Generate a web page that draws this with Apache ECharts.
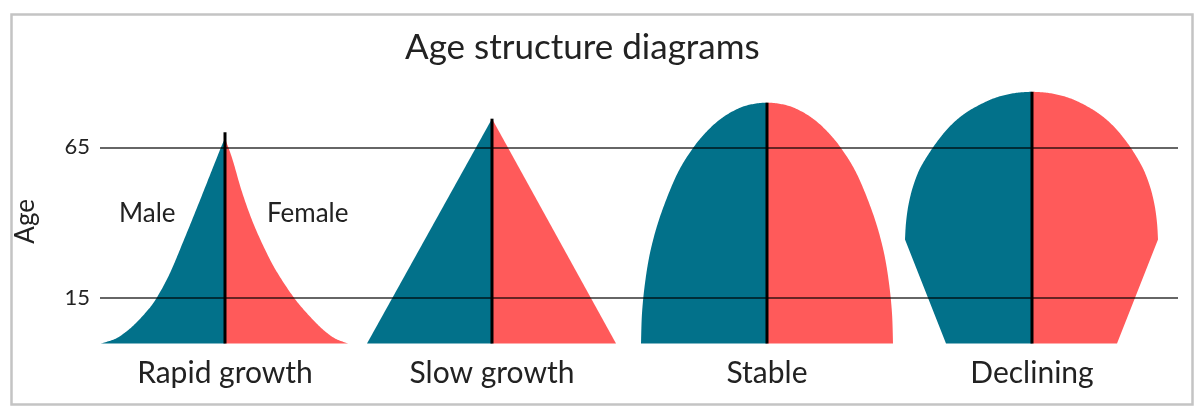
<!DOCTYPE html>
<html>
<head>
<meta charset="utf-8">
<script src="https://cdn.jsdelivr.net/npm/echarts@6/dist/echarts.min.js"></script>
<style>
html,body{margin:0;padding:0;background:#fff;}
#chart{width:1204px;height:414px;}
</style>
</head>
<body>
<div id="chart"></div>
<script>
// ---- data ----
const titleText = 'Age structure diagrams';
const categories = ['Rapid growth', 'Slow growth', 'Stable', 'Declining'];
const ageTicks = [15, 65];
// profiles: [age, half-width (relative population)], from base (age 0) up to the apex
const rapidMale   = [[0,124],[1.5,110],[3.5,100.5],[6,91.5],[10,80],[14.5,69.5],[23,55.5],[34,41.5],[45,28],[56,14.8],[65,4],[68,0]];
const rapidFemale = [[0,123],[1.5,111],[3.5,102],[6,93.5],[10,82],[14.5,70.5],[21,57],[28,44.7],[39,29.3],[50,17.2],[61,7.5],[68,0]];
const slowMale    = [[0,125],[74.5,0]];
const slowFemale  = [[0,124],[74.5,0]];
const stableMale  = [[0,126],[10,125],[20,122],[30,117],[40,109],[50,98],[58,87],[65,73.5],[70,61],[74,48],[77,34],[79,19],[79.8,0]];
const stableFemale= [[0,126],[10,125],[20,122],[30,117],[40,109],[50,98],[58,87],[65,73.5],[70,61],[74,48],[77,34],[79,19],[79.8,0]];
const declMale    = [[0,86],[34.5,127],[40,126],[46,123.5],[52,119],[58,112],[64,101],[69,90],[73,79],[76.5,66],[79.5,50],[81.5,36],[82.9,19],[83.4,0]];
const declFemale  = [[0,85],[34.5,126],[40,125],[46,122.5],[52,118],[58,111],[64,100.5],[69,89.5],[73,78.5],[76.5,65.5],[79.5,50],[81.5,36],[82.9,19],[83.4,0]];
const centerLineTop = [70, 74.5, 79.8, 83.4];
const annotations = ['Male', 'Female'];

const profiles = [
  [rapidMale, rapidFemale],
  [slowMale, slowFemale],
  [stableMale, stableFemale],
  [declMale, declFemale]
];
// edge drawing: number of leading straight segments, rounded (dome) top
const edgeOpts = [
  { straight: 0, dome: false },
  { straight: 1, dome: false },
  { straight: 0, dome: true },
  { straight: 1, dome: true }
];

// ---- style ----
const TEAL = '#02718a';
const CORAL = '#ff5a5a';
const FONT = 'Lato';
const TEXT = '#222';
const GRID_TOP = 87, GRID_BOTTOM = 70.5;
const centers = [225, 492, 767, 1032];
const HALF = 130;
const AGE_MAX = 85;

// smooth edge through pixel points (Catmull-Rom sampled)
function smoothEdge(pts, opt, cx) {
  const out = [pts[0]];
  const n = pts.length;
  for (let i = 0; i < n - 1; i++) {
    const p1 = pts[i], p2 = pts[i + 1];
    if (i < opt.straight) { out.push(p2); continue; }
    const p0 = (i - 1 >= opt.straight && i > 0) ? pts[i - 1] : p1;
    let p3;
    if (i + 2 < n) p3 = pts[i + 2];
    else if (opt.dome) p3 = [2 * cx - pts[n - 2][0], pts[n - 2][1]];
    else p3 = p2;
    const c1 = [p1[0] + (p2[0] - p0[0]) / 6, p1[1] + (p2[1] - p0[1]) / 6];
    const c2 = [p2[0] - (p3[0] - p1[0]) / 6, p2[1] - (p3[1] - p1[1]) / 6];
    const steps = 16;
    for (let s = 1; s <= steps; s++) {
      const t = s / steps, u = 1 - t;
      out.push([
        u*u*u*p1[0] + 3*u*u*t*c1[0] + 3*u*t*t*c2[0] + t*t*t*p2[0],
        u*u*u*p1[1] + 3*u*u*t*c1[1] + 3*u*t*t*c2[1] + t*t*t*p2[1]
      ]);
    }
  }
  return out;
}

function makeRender(male, female, lineTop, opt) {
  return function (params, api) {
    if (params.dataIndex !== 0) return null;
    const base = api.coord([0, 0]);
    const cx = base[0];
    const mEdge = smoothEdge(male.map(p => api.coord([-p[1], p[0]])), opt, cx);
    const fEdge = smoothEdge(female.map(p => api.coord([p[1], p[0]])), opt, cx);
    const top = api.coord([0, lineTop]);
    return {
      type: 'group',
      children: [
        { type: 'polygon', shape: { points: [base].concat(mEdge) }, style: { fill: TEAL } },
        { type: 'polygon', shape: { points: [base].concat(fEdge) }, style: { fill: CORAL } },
        { type: 'line', shape: { x1: base[0], y1: base[1], x2: top[0], y2: top[1] },
          style: { stroke: '#000', lineWidth: 3 } }
      ]
    };
  };
}

const grids = [{ left: 100, right: 26, top: GRID_TOP, bottom: GRID_BOTTOM }];
const xAxes = [{ gridIndex: 0, type: 'value', min: 0, max: 1, show: false }];
const yAxes = [{
  gridIndex: 0, type: 'value', min: 0, max: AGE_MAX,
  axisLine: { show: false }, axisTick: { show: false }, splitLine: { show: false },
  axisLabel: { customValues: ageTicks, fontFamily: FONT, fontSize: 22, color: TEXT, margin: 10 }
}];
const series = [{
  type: 'line', xAxisIndex: 0, yAxisIndex: 0, data: [], z: 10,
  markLine: {
    silent: true, symbol: 'none', animation: false,
    label: { show: false },
    lineStyle: { type: 'solid', color: 'rgba(0,0,0,0.6)', width: 2 },
    data: ageTicks.map(v => ({ yAxis: v }))
  }
}];

categories.forEach((name, i) => {
  grids.push({ left: centers[i] - HALF, width: HALF * 2, top: GRID_TOP, bottom: GRID_BOTTOM });
  xAxes.push({
    gridIndex: i + 1, type: 'value', min: -HALF, max: HALF,
    name: name, nameLocation: 'middle', nameGap: 15,
    nameTextStyle: { fontFamily: FONT, fontSize: 30, color: TEXT },
    axisLine: { show: false }, axisTick: { show: false }, axisLabel: { show: false }, splitLine: { show: false }
  });
  yAxes.push({ gridIndex: i + 1, type: 'value', min: 0, max: AGE_MAX, show: false });
  series.push({
    type: 'custom', xAxisIndex: i + 1, yAxisIndex: i + 1, z: 2,
    renderItem: makeRender(profiles[i][0], profiles[i][1], centerLineTop[i], edgeOpts[i]),
    data: [[0, 0]], silent: true, animation: false
  });
});

const chart = echarts.init(document.getElementById('chart'), null, { renderer: 'canvas' });
chart.setOption({
  animation: false,
  backgroundColor: '#fff',
  title: {
    text: titleText, left: 400, top: 25,
    textStyle: { fontFamily: FONT, fontSize: 35, fontWeight: 'normal', color: TEXT }
  },
  grid: grids, xAxis: xAxes, yAxis: yAxes, series: series,
  graphic: [
    { type: 'rect', left: 9, top: 12, shape: { width: 1181, height: 390 },
      style: { fill: 'none', stroke: '#c4c4c4', lineWidth: 2.5 }, silent: true, z: 0 },
    { type: 'text', left: 13, top: 199, rotation: Math.PI / 2,
      style: { text: 'Age', font: '26px Lato', fill: TEXT } },
    { type: 'text', left: 119, top: 201, style: { text: annotations[0], font: '26px Lato', fill: TEXT } },
    { type: 'text', left: 267, top: 201, style: { text: annotations[1], font: '26px Lato', fill: TEXT } }
  ]
});
</script>
</body>
</html>
